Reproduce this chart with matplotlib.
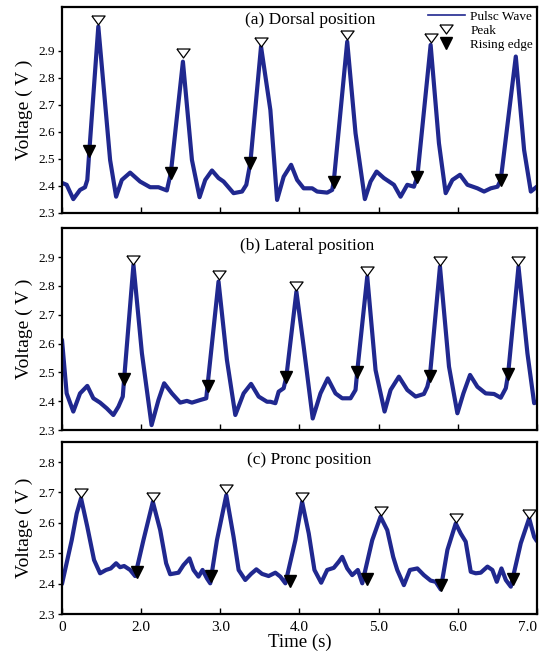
import matplotlib
matplotlib.use('Agg')
import matplotlib.pyplot as plt
from matplotlib.lines import Line2D

plt.rcParams['font.family'] = ['Liberation Serif', 'DejaVu Serif']

# (a) Dorsal position - pulse wave
a_t = [1.000, 1.059, 1.143, 1.228, 1.291, 1.320, 1.346, 1.459, 1.608, 1.684, 1.756, 1.861, 1.987, 2.114, 2.219,
       2.325, 2.376, 2.528, 2.642, 2.738, 2.810, 2.895, 2.978, 3.042, 3.168, 3.275, 3.329, 3.380, 3.515, 3.633,
       3.718, 3.801, 3.895, 3.971, 4.054, 4.161, 4.224, 4.351, 4.414, 4.434, 4.604, 4.709, 4.827, 4.899, 4.975,
       5.067, 5.194, 5.278, 5.363, 5.447, 5.490, 5.658, 5.763, 5.848, 5.933, 6.029, 6.123, 6.249, 6.333, 6.418,
       6.503, 6.544, 6.734, 6.839, 6.924, 7.000]
a_v = [2.411, 2.404, 2.351, 2.385, 2.395, 2.422, 2.531, 2.990, 2.496, 2.360, 2.422, 2.449, 2.416, 2.395, 2.395,
       2.383, 2.449, 2.860, 2.496, 2.358, 2.422, 2.457, 2.429, 2.416, 2.373, 2.379, 2.404, 2.486, 2.916, 2.681,
       2.348, 2.434, 2.478, 2.422, 2.391, 2.391, 2.379, 2.375, 2.385, 2.416, 2.934, 2.595, 2.351, 2.416, 2.453,
       2.429, 2.404, 2.360, 2.404, 2.397, 2.434, 2.922, 2.558, 2.373, 2.422, 2.441, 2.404, 2.391, 2.379, 2.391,
       2.397, 2.422, 2.879, 2.533, 2.379, 2.397]
a_peak_t = [1.459, 2.528, 3.515, 4.604, 5.658]
a_peak_v = [3.013, 2.891, 2.931, 2.959, 2.947]
a_rise_t = [1.346, 2.376, 3.380, 4.434, 5.490, 6.544]
a_rise_v = [2.531, 2.449, 2.486, 2.416, 2.434, 2.422]

# (b) Lateral position
b_t = [1.000, 1.059, 1.143, 1.228, 1.320, 1.396, 1.481, 1.566, 1.649, 1.713, 1.768, 1.785, 1.903, 2.010, 2.132,
       2.219, 2.291, 2.389, 2.494, 2.578, 2.642, 2.747, 2.823, 2.839, 2.978, 3.084, 3.190, 3.295, 3.389, 3.485,
       3.591, 3.633, 3.696, 3.738, 3.801, 3.835, 3.962, 4.054, 4.168, 4.266, 4.358, 4.456, 4.541, 4.646, 4.709,
       4.730, 4.857, 4.962, 5.076, 5.152, 5.257, 5.363, 5.468, 5.573, 5.616, 5.649, 5.776, 5.890, 5.996, 6.072,
       6.156, 6.249, 6.354, 6.459, 6.544, 6.608, 6.637, 6.768, 6.881, 6.966, 7.000]
b_v = [2.613, 2.427, 2.364, 2.427, 2.453, 2.410, 2.395, 2.375, 2.352, 2.381, 2.416, 2.476, 2.873, 2.566, 2.317,
       2.404, 2.462, 2.427, 2.395, 2.401, 2.395, 2.404, 2.410, 2.454, 2.815, 2.543, 2.352, 2.427, 2.460, 2.416,
       2.398, 2.398, 2.393, 2.433, 2.445, 2.485, 2.780, 2.589, 2.340, 2.427, 2.479, 2.427, 2.410, 2.410, 2.439,
       2.502, 2.832, 2.508, 2.364, 2.439, 2.485, 2.439, 2.416, 2.425, 2.450, 2.488, 2.867, 2.520, 2.358, 2.427,
       2.491, 2.450, 2.427, 2.425, 2.412, 2.445, 2.494, 2.867, 2.566, 2.393, 2.398]
b_peak_t = [1.903, 2.978, 3.962, 4.857, 5.776, 6.768]
b_peak_v = [2.890, 2.838, 2.798, 2.852, 2.888, 2.888]
b_rise_t = [1.785, 2.839, 3.835, 4.730, 5.649, 6.637]
b_rise_v = [2.476, 2.454, 2.485, 2.502, 2.488, 2.494]

# (c) Prone position
c_t = [1.000, 1.123, 1.186, 1.241, 1.320, 1.405, 1.481, 1.557, 1.616, 1.684, 1.734, 1.785, 1.861, 1.924, 2.029,
       2.148, 2.241, 2.316, 2.367, 2.472, 2.535, 2.611, 2.662, 2.725, 2.776, 2.832, 2.873, 2.958, 3.076, 3.168,
       3.232, 3.316, 3.389, 3.456, 3.528, 3.611, 3.696, 3.759, 3.823, 3.949, 4.034, 4.118, 4.190, 4.275, 4.351,
       4.434, 4.497, 4.541, 4.604, 4.667, 4.738, 4.794, 4.920, 5.025, 5.110, 5.185, 5.236, 5.320, 5.396, 5.490,
       5.573, 5.658, 5.722, 5.785, 5.870, 5.975, 6.038, 6.101, 6.165, 6.228, 6.291, 6.376, 6.438, 6.494, 6.553,
       6.608, 6.671, 6.797, 6.903, 6.966, 7.000]
c_v = [2.399, 2.543, 2.631, 2.681, 2.587, 2.478, 2.434, 2.445, 2.450, 2.467, 2.454, 2.458, 2.445, 2.425, 2.543,
       2.669, 2.576, 2.467, 2.431, 2.436, 2.461, 2.483, 2.445, 2.423, 2.445, 2.417, 2.401, 2.543, 2.691, 2.554,
       2.445, 2.412, 2.432, 2.447, 2.432, 2.425, 2.436, 2.423, 2.401, 2.543, 2.669, 2.565, 2.445, 2.403, 2.445,
       2.452, 2.472, 2.488, 2.450, 2.428, 2.445, 2.401, 2.543, 2.620, 2.576, 2.488, 2.445, 2.395, 2.445, 2.450,
       2.428, 2.410, 2.406, 2.381, 2.511, 2.598, 2.565, 2.538, 2.439, 2.434, 2.436, 2.456, 2.445, 2.406, 2.450,
       2.412, 2.390, 2.533, 2.615, 2.554, 2.540]
c_peak_t = [1.241, 2.148, 3.076, 4.034, 5.025, 5.975, 6.903]
c_peak_v = [2.697, 2.686, 2.713, 2.686, 2.639, 2.615, 2.629]
c_rise_t = [1.946, 2.886, 3.886, 4.857, 5.785, 6.705]
c_rise_v = [2.437, 2.426, 2.409, 2.415, 2.395, 2.415]

titles = ['(a) Dorsal position', '(b) Lateral position', '(c) Pronc position']
x_ticks = [1, 2, 3, 4, 5, 6, 7]
x_labels = ['0', '2.0', '3.0', '4.0', '5.0', '6.0', '7.0']

line_color = '#20288f'
peak_marker = [(-1, 0.68), (1, 0.68), (0, -0.68), (-1, 0.68)]  # flat open triangle

panels = [
    dict(t=a_t, v=a_v, pt=a_peak_t, pv=a_peak_v, rt=a_rise_t, rv=a_rise_v,
         rect=[0.115, 0.674, 0.881, 0.3155], ylim=(2.3, 3.063), yticks=[2.3, 2.4, 2.5, 2.6, 2.7, 2.8, 2.9],
         title_xy=(0.522, 0.935)),
    dict(t=b_t, v=b_v, pt=b_peak_t, pv=b_peak_v, rt=b_rise_t, rv=b_rise_v,
         rect=[0.115, 0.3415, 0.881, 0.309], ylim=(2.3, 3.0), yticks=[2.3, 2.4, 2.5, 2.6, 2.7, 2.8, 2.9],
         title_xy=(0.517, 0.914)),
    dict(t=c_t, v=c_v, pt=c_peak_t, pv=c_peak_v, rt=c_rise_t, rv=c_rise_v,
         rect=[0.115, 0.0597, 0.881, 0.2634], ylim=(2.3, 2.866), yticks=[2.3, 2.4, 2.5, 2.6, 2.7, 2.8],
         title_xy=(0.521, 0.893)),
]

fig = plt.figure(figsize=(5.39, 6.53), dpi=100)

for i, p in enumerate(panels):
    ax = fig.add_axes(p['rect'])
    ax.plot(p['t'], p['v'], color=line_color, lw=3.0, solid_joinstyle='round', solid_capstyle='round')
    ax.plot(p['pt'], p['pv'], ls='none', marker=peak_marker, ms=9.5, mfc='white', mec='black', mew=0.9)
    ax.plot(p['rt'], p['rv'], ls='none', marker='v', ms=8.5, color='black')

    ax.set_xlim(1, 7)
    ax.set_ylim(*p['ylim'])
    ax.set_yticks(p['yticks'])
    ax.set_yticklabels([f'{y:.1f}' for y in p['yticks']])
    ax.set_xticks(x_ticks)
    ax.set_ylabel('Voltage ( V )', fontsize=14, labelpad=4)

    ax.tick_params(axis='y', direction='out', length=3, width=1, labelsize=9.5, pad=2)
    ax.tick_params(axis='x', direction='in', length=4, width=1, labelsize=11, pad=5)
    for s in ax.spines.values():
        s.set_linewidth(1.6)

    if i < 2:
        ax.set_xticklabels([])
    else:
        ax.set_xticklabels(x_labels)
        ax.get_xticklabels()[-1].set_horizontalalignment('right')  # keep "7.0" inside the figure
        ax.set_xlabel('Time (s)', fontsize=13.5, labelpad=0)

    ax.text(p['title_xy'][0], p['title_xy'][1], titles[i], transform=ax.transAxes,
            ha='center', va='center', fontsize=12.5)

    if i == 0:
        handles = [Line2D([], [], color=line_color, lw=1.2),
                   Line2D([], [], ls='none', marker=peak_marker, ms=9.5, mfc='white', mec='black', mew=0.9),
                   Line2D([], [], ls='none', marker='v', ms=8.5, color='black')]
        ax.legend(handles, ['Pulsc Wave', 'Peak', 'Rising edge'], loc='upper right', frameon=False,
                  fontsize=9.5, handlelength=2.8, handletextpad=0.4, labelspacing=0.12,
                  borderaxespad=0.1, borderpad=0.2)

fig.savefig('out.png', dpi=100)
